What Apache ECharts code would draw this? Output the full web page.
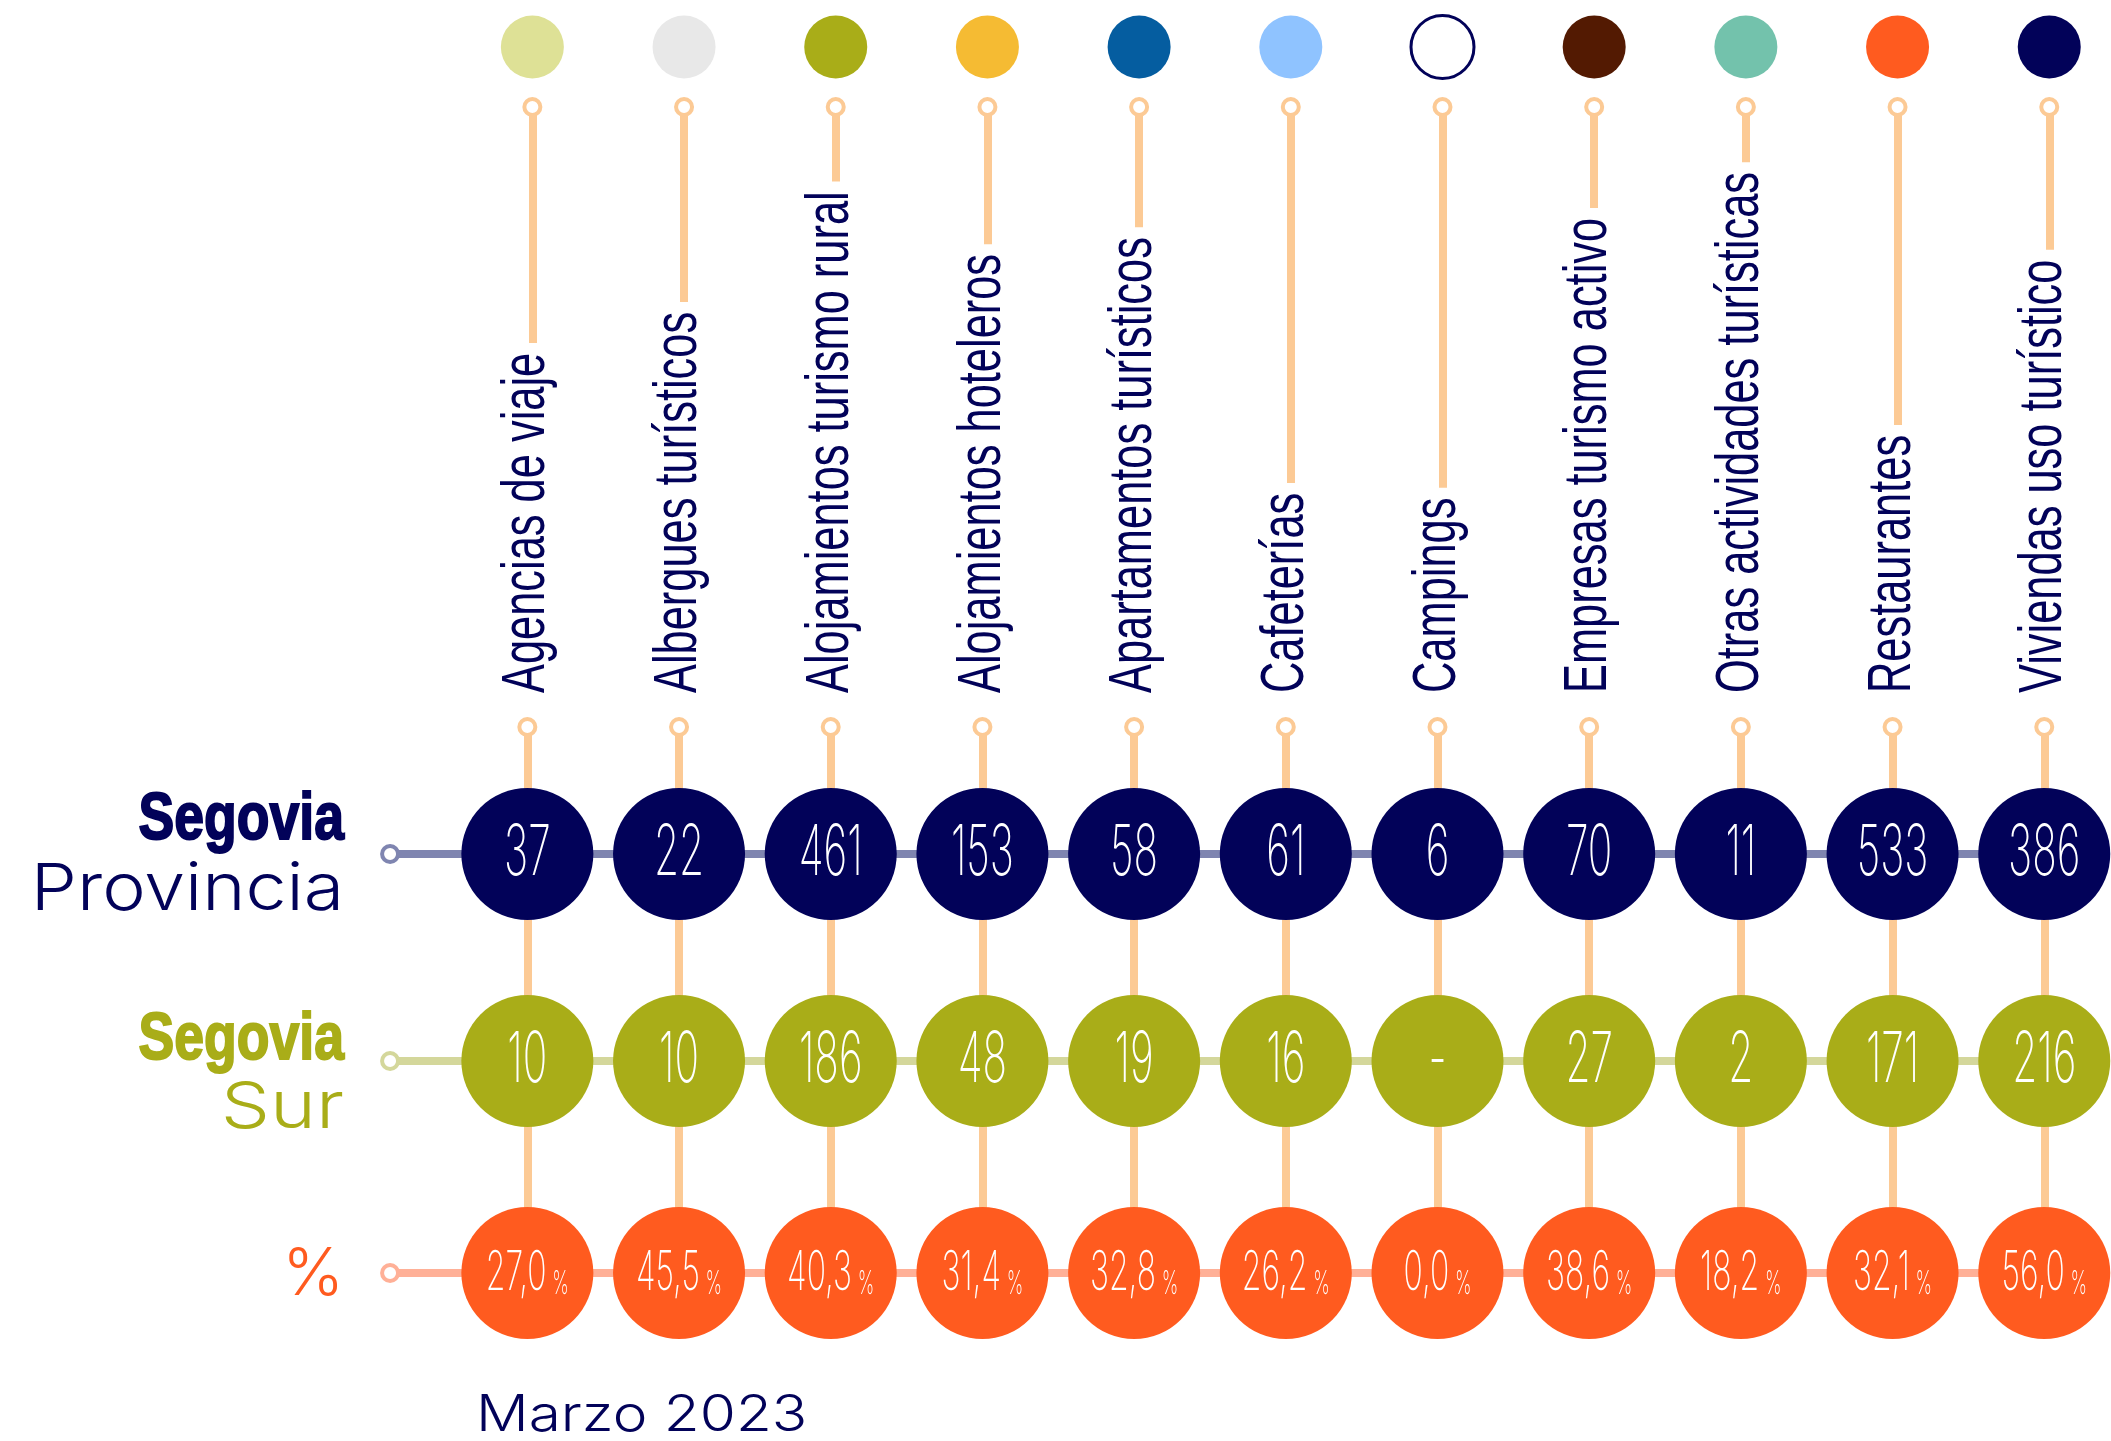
<!DOCTYPE html>
<html lang="es">
<head>
<meta charset="utf-8">
<title>Segovia Provincia / Segovia Sur – Marzo 2023</title>
<script src="https://cdn.jsdelivr.net/npm/echarts@6/dist/echarts.min.js"></script>
<style>
  html, body { margin: 0; background: #fff; }
  #chart { width: 2111px; height: 1441px; }
</style>
</head>
<body>
<div id="chart"></div>
<script>
const categories = [
  'Agencias de viaje',
  'Albergues turísticos',
  'Alojamientos turismo rural',
  'Alojamientos hoteleros',
  'Apartamentos turísticos',
  'Cafeterías',
  'Campings',
  'Empresas turismo activo',
  'Otras actividades turísticas',
  'Restaurantes',
  'Viviendas uso turístico',
]
const provinciaValues = [37, 22, 461, 153, 58, 61, 6, 70, 11, 533, 386]
const surValues = [10, 10, 186, 48, 19, 16, null, 27, 2, 171, 216]
const percentValues = [27.0, 45.5, 40.3, 31.4, 32.8, 26.2, 0.0, 38.6, 18.2, 32.1, 56.0]
const dotColors = ['#DEE196', '#E8E8E8', '#A9AD18', '#F5BB33', '#055DA0', '#8FC3FF', '#FFFFFF', '#531A02', '#73C2AC', '#FF5B1F', '#020259']

// colours
const NAVY = '#020259'
const OLIVE = '#A9AD18'
const ORANGE = '#FF5B1F'
const STEM = '#FCCA95'
const ROW_LINE = ['#7F85B0', '#D4D79B', '#FFB097']

// layout: x in column units, y in pixels of the 2111x1441 canvas
const WIDTH = 2111
const HEIGHT = 1441
const COL0 = 527.35
const COL_STEP = 151.69
const TOP_SHIFT = 0.033
const HEADER_RING_X = -0.905
const DOT_Y = 47
const RING_TOP_Y = 107
const LABEL_BASE_Y = 693
const RING_MID_Y = 727
const ROW_Y = [854, 1061, 1273]
const CIRCLE_R = 66

const CONDENSED = '"Liberation Sans", Arial, sans-serif'
const LIGHT = 'Inter, Roboto, sans-serif'

const cols = categories.map((_, i) => i)

function fmtPercent(v) {
  return v.toFixed(1).replace('.', ',')
}

function circleRow(name, y, fill, textFor) {
  return {
    name,
    type: 'custom',
    z: 6,
    silent: true,
    data: cols.map(i => [i, y]),
    renderItem(params, api) {
      const [cx, cy] = api.coord([api.value(0), api.value(1)])
      return {
        type: 'group',
        children: [
          { type: 'circle', shape: { cx, cy, r: CIRCLE_R }, style: { fill } },
          { type: 'text', x: cx, y: cy, scaleX: 0.58, style: textFor(params.dataIndex) },
        ],
      }
    },
  }
}

function numberText(value) {
  return {
    text: value == null ? '-' : String(value),
    fontFamily: LIGHT,
    fontWeight: 200,
    fontSize: 70,
    fill: '#fff',
    align: 'center',
    verticalAlign: 'middle',
  }
}

function ringPoints(xs, y, color) {
  return {
    type: 'scatter',
    z: 5,
    silent: true,
    symbol: 'circle',
    symbolSize: 16,
    itemStyle: { color: '#fff', borderColor: color, borderWidth: 4, opacity: 1 },
    data: xs.map(x => [x, y]),
  }
}

function headerText(x, y, text, opts) {
  return {
    type: 'text',
    x,
    y,
    scaleX: opts.scaleX ?? 1,
    style: {
      text,
      fontFamily: opts.fontFamily,
      fontWeight: opts.fontWeight,
      fontSize: opts.fontSize,
      fill: opts.color,
      stroke: opts.bold ? opts.color : null,
      lineWidth: opts.bold ? 2 : 0,
      align: opts.align ?? 'right',
      verticalAlign: 'middle',
    },
  }
}

const chart = echarts.init(document.getElementById('chart'), null, { renderer: 'canvas' })

const boldHead = { fontFamily: CONDENSED, fontWeight: 'bold', fontSize: 67, scaleX: 0.8, bold: true }
const lightHead = { fontFamily: LIGHT, fontWeight: 300, fontSize: 65, scaleX: 1.13 }

const option = {
  backgroundColor: '#fff',
  animation: false,
  grid: { left: 0, right: 0, top: 0, bottom: 0 },
  xAxis: {
    type: 'value',
    min: -COL0 / COL_STEP,
    max: (WIDTH - COL0) / COL_STEP,
    show: false,
  },
  yAxis: {
    type: 'value',
    min: 0,
    max: HEIGHT,
    inverse: true,
    show: false,
  },
  series: [
    // vertical stems
    {
      type: 'lines',
      coordinateSystem: 'cartesian2d',
      z: 1,
      silent: true,
      lineStyle: { color: STEM, width: 8, opacity: 1 },
      data: cols.map(i => ({ coords: [[i + TOP_SHIFT, RING_TOP_Y], [i + TOP_SHIFT, LABEL_BASE_Y]] })),
    },
    {
      type: 'lines',
      coordinateSystem: 'cartesian2d',
      z: 1,
      silent: true,
      lineStyle: { color: STEM, width: 8, opacity: 1 },
      data: cols.map(i => ({ coords: [[i, RING_MID_Y], [i, ROW_Y[2]]] })),
    },
    // row lines
    ...ROW_Y.map((y, r) => ({
      type: 'line',
      z: 2,
      silent: true,
      symbol: 'none',
      lineStyle: { color: ROW_LINE[r], width: 8 },
      data: [[HEADER_RING_X, y], [cols.length - 1, y]],
    })),
    // category labels, white box hides the stem behind them
    {
      type: 'custom',
      z: 3,
      silent: true,
      data: cols.map(i => [i, LABEL_BASE_Y]),
      renderItem(params, api) {
        const [x, y] = api.coord([api.value(0), api.value(1)])
        return {
          type: 'text',
          x,
          y,
          rotation: Math.PI / 2,
          scaleX: 0.7,
          style: {
            text: categories[params.dataIndex],
            fontFamily: CONDENSED,
            fontSize: 62,
            fill: NAVY,
            align: 'left',
            verticalAlign: 'middle',
            backgroundColor: '#fff',
            padding: [0, 14, 0, 0],
          },
        }
      },
    },
    // rings
    ringPoints(cols.map(i => i + TOP_SHIFT), RING_TOP_Y, STEM),
    ringPoints(cols, RING_MID_Y, STEM),
    ...ROW_Y.map((y, r) => ringPoints([HEADER_RING_X], y, ROW_LINE[r])),
    // coloured legend dots
    {
      type: 'scatter',
      z: 6,
      silent: true,
      symbolSize: 63,
      data: cols.map(i => ({
        value: [i + TOP_SHIFT, DOT_Y],
        itemStyle: dotColors[i] === '#FFFFFF'
          ? { color: '#fff', borderColor: NAVY, borderWidth: 3, opacity: 1 }
          : { color: dotColors[i], opacity: 1 },
      })),
    },
    // value circles
    circleRow('Segovia Provincia', ROW_Y[0], NAVY, i => numberText(provinciaValues[i])),
    circleRow('Segovia Sur', ROW_Y[1], OLIVE, i => numberText(surValues[i])),
    circleRow('%', ROW_Y[2], ORANGE, i => ({
      text: `{n|${fmtPercent(percentValues[i])}}{p|%}`,
      align: 'center',
      verticalAlign: 'middle',
      rich: {
        n: { fontFamily: LIGHT, fontWeight: 200, fontSize: 55, lineHeight: 55, fill: '#fff', color: '#fff' },
        p: { fontFamily: LIGHT, fontWeight: 200, fontSize: 32, lineHeight: 37, verticalAlign: 'bottom', padding: [0, 0, 0, 10], fill: '#fff', color: '#fff' },
      },
    })),
  ],
  graphic: [
    headerText(344, 821, 'Segovia', { ...boldHead, color: NAVY }),
    headerText(344, 890, 'Provincia', { ...lightHead, color: NAVY }),
    headerText(344, 1041, 'Segovia', { ...boldHead, color: OLIVE }),
    headerText(344, 1108, 'Sur', { ...lightHead, scaleX: 1.2, color: OLIVE }),
    headerText(344, 1275, '%', { fontFamily: LIGHT, fontWeight: 300, fontSize: 66, color: ORANGE }),
    headerText(476, 1416, 'Marzo 2023', { fontFamily: LIGHT, fontWeight: 300, fontSize: 50, scaleX: 1.17, color: NAVY, align: 'left' }),
  ],
}

chart.setOption(option)
</script>
</body>
</html>
